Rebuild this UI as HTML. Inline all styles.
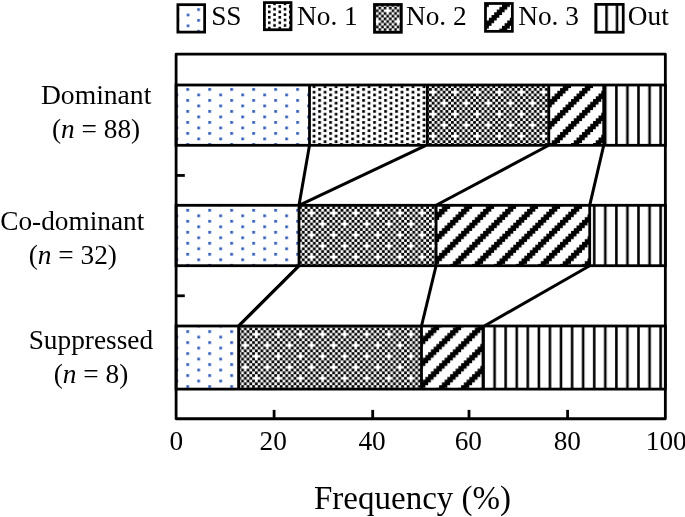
<!DOCTYPE html>
<html><head><meta charset="utf-8"><style>
html,body{margin:0;padding:0;background:#fff;}
svg{display:block;will-change:transform;}
text{font-family:"Liberation Serif", serif;fill:#000;}
</style></head><body>
<svg width="685" height="517" viewBox="0 0 685 517">
<defs>
<pattern id="p0ss" patternUnits="userSpaceOnUse" x="186.326" y="88.076" width="21.984" height="21.984">
<rect x="0.000" y="0.000" width="2.748" height="2.748" fill="#335fbb"/>
<rect x="10.992" y="5.496" width="2.748" height="2.748" fill="#335fbb"/>
<rect x="0.000" y="10.992" width="2.748" height="2.748" fill="#335fbb"/>
<rect x="10.992" y="16.488" width="2.748" height="2.748" fill="#335fbb"/>
</pattern>
<pattern id="p0n1" patternUnits="userSpaceOnUse" x="186.326" y="88.076" width="21.984" height="21.984">
<rect x="0.027" y="0.027" width="2.693" height="2.693"/>
<rect x="11.019" y="0.027" width="2.693" height="2.693"/>
<rect x="5.523" y="2.775" width="2.693" height="2.693"/>
<rect x="16.515" y="2.775" width="2.693" height="2.693"/>
<rect x="0.027" y="5.523" width="2.693" height="2.693"/>
<rect x="11.019" y="5.523" width="2.693" height="2.693"/>
<rect x="5.523" y="8.271" width="2.693" height="2.693"/>
<rect x="16.515" y="8.271" width="2.693" height="2.693"/>
<rect x="0.027" y="11.019" width="2.693" height="2.693"/>
<rect x="11.019" y="11.019" width="2.693" height="2.693"/>
<rect x="5.523" y="13.767" width="2.693" height="2.693"/>
<rect x="16.515" y="13.767" width="2.693" height="2.693"/>
<rect x="0.027" y="16.515" width="2.693" height="2.693"/>
<rect x="11.019" y="16.515" width="2.693" height="2.693"/>
<rect x="5.523" y="19.263" width="2.693" height="2.693"/>
<rect x="16.515" y="19.263" width="2.693" height="2.693"/>
</pattern>
<pattern id="p0n2" patternUnits="userSpaceOnUse" x="185.889" y="88.076" width="22.096" height="21.984">
<rect x="0.000" y="0.000" width="2.762" height="2.748"/>
<rect x="5.524" y="0.000" width="2.762" height="2.748"/>
<rect x="11.048" y="0.000" width="2.762" height="2.748"/>
<rect x="16.572" y="0.000" width="2.762" height="2.748"/>
<rect x="8.286" y="2.748" width="2.762" height="2.748"/>
<rect x="13.810" y="2.748" width="2.762" height="2.748"/>
<rect x="19.334" y="2.748" width="2.762" height="2.748"/>
<rect x="0.000" y="5.496" width="2.762" height="2.748"/>
<rect x="5.524" y="5.496" width="2.762" height="2.748"/>
<rect x="11.048" y="5.496" width="2.762" height="2.748"/>
<rect x="16.572" y="5.496" width="2.762" height="2.748"/>
<rect x="2.762" y="8.244" width="2.762" height="2.748"/>
<rect x="8.286" y="8.244" width="2.762" height="2.748"/>
<rect x="13.810" y="8.244" width="2.762" height="2.748"/>
<rect x="19.334" y="8.244" width="2.762" height="2.748"/>
<rect x="0.000" y="10.992" width="2.762" height="2.748"/>
<rect x="5.524" y="10.992" width="2.762" height="2.748"/>
<rect x="11.048" y="10.992" width="2.762" height="2.748"/>
<rect x="16.572" y="10.992" width="2.762" height="2.748"/>
<rect x="2.762" y="13.740" width="2.762" height="2.748"/>
<rect x="8.286" y="13.740" width="2.762" height="2.748"/>
<rect x="19.334" y="13.740" width="2.762" height="2.748"/>
<rect x="0.000" y="16.488" width="2.762" height="2.748"/>
<rect x="5.524" y="16.488" width="2.762" height="2.748"/>
<rect x="11.048" y="16.488" width="2.762" height="2.748"/>
<rect x="16.572" y="16.488" width="2.762" height="2.748"/>
<rect x="2.762" y="19.236" width="2.762" height="2.748"/>
<rect x="8.286" y="19.236" width="2.762" height="2.748"/>
<rect x="13.810" y="19.236" width="2.762" height="2.748"/>
<rect x="19.334" y="19.236" width="2.762" height="2.748"/>
</pattern>
<pattern id="p0n3" patternUnits="userSpaceOnUse" x="186.326" y="88.076" width="21.984" height="21.984">
<path d="M8.244,0.000 L8.244,2.748 L5.496,2.748 L5.496,5.496 L2.748,5.496 L2.748,8.244 L0.000,8.244 L0.000,10.992 L-2.748,10.992 L-2.748,13.740 L-5.496,13.740 L-5.496,16.488 L-8.244,16.488 L-8.244,19.236 L-10.992,19.236 L-10.992,21.984 L-19.236,21.984 L-19.236,19.236 L-16.488,19.236 L-16.488,16.488 L-13.740,16.488 L-13.740,13.740 L-10.992,13.740 L-10.992,10.992 L-8.244,10.992 L-8.244,8.244 L-5.496,8.244 L-5.496,5.496 L-2.748,5.496 L-2.748,2.748 L0.000,2.748 L0.000,0.000Z"/>
<path d="M30.228,0.000 L30.228,2.748 L27.480,2.748 L27.480,5.496 L24.732,5.496 L24.732,8.244 L21.984,8.244 L21.984,10.992 L19.236,10.992 L19.236,13.740 L16.488,13.740 L16.488,16.488 L13.740,16.488 L13.740,19.236 L10.992,19.236 L10.992,21.984 L2.748,21.984 L2.748,19.236 L5.496,19.236 L5.496,16.488 L8.244,16.488 L8.244,13.740 L10.992,13.740 L10.992,10.992 L13.740,10.992 L13.740,8.244 L16.488,8.244 L16.488,5.496 L19.236,5.496 L19.236,2.748 L21.984,2.748 L21.984,0.000Z"/>
<path d="M52.212,0.000 L52.212,2.748 L49.464,2.748 L49.464,5.496 L46.716,5.496 L46.716,8.244 L43.968,8.244 L43.968,10.992 L41.220,10.992 L41.220,13.740 L38.472,13.740 L38.472,16.488 L35.724,16.488 L35.724,19.236 L32.976,19.236 L32.976,21.984 L24.732,21.984 L24.732,19.236 L27.480,19.236 L27.480,16.488 L30.228,16.488 L30.228,13.740 L32.976,13.740 L32.976,10.992 L35.724,10.992 L35.724,8.244 L38.472,8.244 L38.472,5.496 L41.220,5.496 L41.220,2.748 L43.968,2.748 L43.968,0.000Z"/>
</pattern>
<pattern id="p0out" patternUnits="userSpaceOnUse" x="415.726" y="88.076" width="22.140" height="21.984">
<rect x="0.109" y="0" width="2.550" height="21.984"/>
<rect x="11.179" y="0" width="2.550" height="21.984"/>
</pattern>
<pattern id="p1ss" patternUnits="userSpaceOnUse" x="186.326" y="197.926" width="21.984" height="21.984">
<rect x="0.000" y="0.000" width="2.748" height="2.748" fill="#335fbb"/>
<rect x="10.992" y="5.496" width="2.748" height="2.748" fill="#335fbb"/>
<rect x="0.000" y="10.992" width="2.748" height="2.748" fill="#335fbb"/>
<rect x="10.992" y="16.488" width="2.748" height="2.748" fill="#335fbb"/>
</pattern>
<pattern id="p1n1" patternUnits="userSpaceOnUse" x="186.326" y="197.926" width="21.984" height="21.984">
<rect x="0.027" y="0.027" width="2.693" height="2.693"/>
<rect x="11.019" y="0.027" width="2.693" height="2.693"/>
<rect x="5.523" y="2.775" width="2.693" height="2.693"/>
<rect x="16.515" y="2.775" width="2.693" height="2.693"/>
<rect x="0.027" y="5.523" width="2.693" height="2.693"/>
<rect x="11.019" y="5.523" width="2.693" height="2.693"/>
<rect x="5.523" y="8.271" width="2.693" height="2.693"/>
<rect x="16.515" y="8.271" width="2.693" height="2.693"/>
<rect x="0.027" y="11.019" width="2.693" height="2.693"/>
<rect x="11.019" y="11.019" width="2.693" height="2.693"/>
<rect x="5.523" y="13.767" width="2.693" height="2.693"/>
<rect x="16.515" y="13.767" width="2.693" height="2.693"/>
<rect x="0.027" y="16.515" width="2.693" height="2.693"/>
<rect x="11.019" y="16.515" width="2.693" height="2.693"/>
<rect x="5.523" y="19.263" width="2.693" height="2.693"/>
<rect x="16.515" y="19.263" width="2.693" height="2.693"/>
</pattern>
<pattern id="p1n2" patternUnits="userSpaceOnUse" x="185.889" y="197.926" width="22.096" height="21.984">
<rect x="0.000" y="0.000" width="2.762" height="2.748"/>
<rect x="5.524" y="0.000" width="2.762" height="2.748"/>
<rect x="11.048" y="0.000" width="2.762" height="2.748"/>
<rect x="16.572" y="0.000" width="2.762" height="2.748"/>
<rect x="8.286" y="2.748" width="2.762" height="2.748"/>
<rect x="13.810" y="2.748" width="2.762" height="2.748"/>
<rect x="19.334" y="2.748" width="2.762" height="2.748"/>
<rect x="0.000" y="5.496" width="2.762" height="2.748"/>
<rect x="5.524" y="5.496" width="2.762" height="2.748"/>
<rect x="11.048" y="5.496" width="2.762" height="2.748"/>
<rect x="16.572" y="5.496" width="2.762" height="2.748"/>
<rect x="2.762" y="8.244" width="2.762" height="2.748"/>
<rect x="8.286" y="8.244" width="2.762" height="2.748"/>
<rect x="13.810" y="8.244" width="2.762" height="2.748"/>
<rect x="19.334" y="8.244" width="2.762" height="2.748"/>
<rect x="0.000" y="10.992" width="2.762" height="2.748"/>
<rect x="5.524" y="10.992" width="2.762" height="2.748"/>
<rect x="11.048" y="10.992" width="2.762" height="2.748"/>
<rect x="16.572" y="10.992" width="2.762" height="2.748"/>
<rect x="2.762" y="13.740" width="2.762" height="2.748"/>
<rect x="8.286" y="13.740" width="2.762" height="2.748"/>
<rect x="19.334" y="13.740" width="2.762" height="2.748"/>
<rect x="0.000" y="16.488" width="2.762" height="2.748"/>
<rect x="5.524" y="16.488" width="2.762" height="2.748"/>
<rect x="11.048" y="16.488" width="2.762" height="2.748"/>
<rect x="16.572" y="16.488" width="2.762" height="2.748"/>
<rect x="2.762" y="19.236" width="2.762" height="2.748"/>
<rect x="8.286" y="19.236" width="2.762" height="2.748"/>
<rect x="13.810" y="19.236" width="2.762" height="2.748"/>
<rect x="19.334" y="19.236" width="2.762" height="2.748"/>
</pattern>
<pattern id="p1n3" patternUnits="userSpaceOnUse" x="186.326" y="197.926" width="21.984" height="21.984">
<path d="M8.244,0.000 L8.244,2.748 L5.496,2.748 L5.496,5.496 L2.748,5.496 L2.748,8.244 L0.000,8.244 L0.000,10.992 L-2.748,10.992 L-2.748,13.740 L-5.496,13.740 L-5.496,16.488 L-8.244,16.488 L-8.244,19.236 L-10.992,19.236 L-10.992,21.984 L-19.236,21.984 L-19.236,19.236 L-16.488,19.236 L-16.488,16.488 L-13.740,16.488 L-13.740,13.740 L-10.992,13.740 L-10.992,10.992 L-8.244,10.992 L-8.244,8.244 L-5.496,8.244 L-5.496,5.496 L-2.748,5.496 L-2.748,2.748 L0.000,2.748 L0.000,0.000Z"/>
<path d="M30.228,0.000 L30.228,2.748 L27.480,2.748 L27.480,5.496 L24.732,5.496 L24.732,8.244 L21.984,8.244 L21.984,10.992 L19.236,10.992 L19.236,13.740 L16.488,13.740 L16.488,16.488 L13.740,16.488 L13.740,19.236 L10.992,19.236 L10.992,21.984 L2.748,21.984 L2.748,19.236 L5.496,19.236 L5.496,16.488 L8.244,16.488 L8.244,13.740 L10.992,13.740 L10.992,10.992 L13.740,10.992 L13.740,8.244 L16.488,8.244 L16.488,5.496 L19.236,5.496 L19.236,2.748 L21.984,2.748 L21.984,0.000Z"/>
<path d="M52.212,0.000 L52.212,2.748 L49.464,2.748 L49.464,5.496 L46.716,5.496 L46.716,8.244 L43.968,8.244 L43.968,10.992 L41.220,10.992 L41.220,13.740 L38.472,13.740 L38.472,16.488 L35.724,16.488 L35.724,19.236 L32.976,19.236 L32.976,21.984 L24.732,21.984 L24.732,19.236 L27.480,19.236 L27.480,16.488 L30.228,16.488 L30.228,13.740 L32.976,13.740 L32.976,10.992 L35.724,10.992 L35.724,8.244 L38.472,8.244 L38.472,5.496 L41.220,5.496 L41.220,2.748 L43.968,2.748 L43.968,0.000Z"/>
</pattern>
<pattern id="p1out" patternUnits="userSpaceOnUse" x="415.726" y="197.926" width="22.140" height="21.984">
<rect x="0.109" y="0" width="2.550" height="21.984"/>
<rect x="11.179" y="0" width="2.550" height="21.984"/>
</pattern>
<pattern id="p2ss" patternUnits="userSpaceOnUse" x="186.326" y="330.226" width="21.984" height="21.984">
<rect x="0.000" y="0.000" width="2.748" height="2.748" fill="#335fbb"/>
<rect x="10.992" y="5.496" width="2.748" height="2.748" fill="#335fbb"/>
<rect x="0.000" y="10.992" width="2.748" height="2.748" fill="#335fbb"/>
<rect x="10.992" y="16.488" width="2.748" height="2.748" fill="#335fbb"/>
</pattern>
<pattern id="p2n1" patternUnits="userSpaceOnUse" x="186.326" y="330.226" width="21.984" height="21.984">
<rect x="0.027" y="0.027" width="2.693" height="2.693"/>
<rect x="11.019" y="0.027" width="2.693" height="2.693"/>
<rect x="5.523" y="2.775" width="2.693" height="2.693"/>
<rect x="16.515" y="2.775" width="2.693" height="2.693"/>
<rect x="0.027" y="5.523" width="2.693" height="2.693"/>
<rect x="11.019" y="5.523" width="2.693" height="2.693"/>
<rect x="5.523" y="8.271" width="2.693" height="2.693"/>
<rect x="16.515" y="8.271" width="2.693" height="2.693"/>
<rect x="0.027" y="11.019" width="2.693" height="2.693"/>
<rect x="11.019" y="11.019" width="2.693" height="2.693"/>
<rect x="5.523" y="13.767" width="2.693" height="2.693"/>
<rect x="16.515" y="13.767" width="2.693" height="2.693"/>
<rect x="0.027" y="16.515" width="2.693" height="2.693"/>
<rect x="11.019" y="16.515" width="2.693" height="2.693"/>
<rect x="5.523" y="19.263" width="2.693" height="2.693"/>
<rect x="16.515" y="19.263" width="2.693" height="2.693"/>
</pattern>
<pattern id="p2n2" patternUnits="userSpaceOnUse" x="185.889" y="330.226" width="22.096" height="21.984">
<rect x="0.000" y="0.000" width="2.762" height="2.748"/>
<rect x="5.524" y="0.000" width="2.762" height="2.748"/>
<rect x="11.048" y="0.000" width="2.762" height="2.748"/>
<rect x="16.572" y="0.000" width="2.762" height="2.748"/>
<rect x="8.286" y="2.748" width="2.762" height="2.748"/>
<rect x="13.810" y="2.748" width="2.762" height="2.748"/>
<rect x="19.334" y="2.748" width="2.762" height="2.748"/>
<rect x="0.000" y="5.496" width="2.762" height="2.748"/>
<rect x="5.524" y="5.496" width="2.762" height="2.748"/>
<rect x="11.048" y="5.496" width="2.762" height="2.748"/>
<rect x="16.572" y="5.496" width="2.762" height="2.748"/>
<rect x="2.762" y="8.244" width="2.762" height="2.748"/>
<rect x="8.286" y="8.244" width="2.762" height="2.748"/>
<rect x="13.810" y="8.244" width="2.762" height="2.748"/>
<rect x="19.334" y="8.244" width="2.762" height="2.748"/>
<rect x="0.000" y="10.992" width="2.762" height="2.748"/>
<rect x="5.524" y="10.992" width="2.762" height="2.748"/>
<rect x="11.048" y="10.992" width="2.762" height="2.748"/>
<rect x="16.572" y="10.992" width="2.762" height="2.748"/>
<rect x="2.762" y="13.740" width="2.762" height="2.748"/>
<rect x="8.286" y="13.740" width="2.762" height="2.748"/>
<rect x="19.334" y="13.740" width="2.762" height="2.748"/>
<rect x="0.000" y="16.488" width="2.762" height="2.748"/>
<rect x="5.524" y="16.488" width="2.762" height="2.748"/>
<rect x="11.048" y="16.488" width="2.762" height="2.748"/>
<rect x="16.572" y="16.488" width="2.762" height="2.748"/>
<rect x="2.762" y="19.236" width="2.762" height="2.748"/>
<rect x="8.286" y="19.236" width="2.762" height="2.748"/>
<rect x="13.810" y="19.236" width="2.762" height="2.748"/>
<rect x="19.334" y="19.236" width="2.762" height="2.748"/>
</pattern>
<pattern id="p2n3" patternUnits="userSpaceOnUse" x="186.326" y="330.226" width="21.984" height="21.984">
<path d="M8.244,0.000 L8.244,2.748 L5.496,2.748 L5.496,5.496 L2.748,5.496 L2.748,8.244 L0.000,8.244 L0.000,10.992 L-2.748,10.992 L-2.748,13.740 L-5.496,13.740 L-5.496,16.488 L-8.244,16.488 L-8.244,19.236 L-10.992,19.236 L-10.992,21.984 L-19.236,21.984 L-19.236,19.236 L-16.488,19.236 L-16.488,16.488 L-13.740,16.488 L-13.740,13.740 L-10.992,13.740 L-10.992,10.992 L-8.244,10.992 L-8.244,8.244 L-5.496,8.244 L-5.496,5.496 L-2.748,5.496 L-2.748,2.748 L0.000,2.748 L0.000,0.000Z"/>
<path d="M30.228,0.000 L30.228,2.748 L27.480,2.748 L27.480,5.496 L24.732,5.496 L24.732,8.244 L21.984,8.244 L21.984,10.992 L19.236,10.992 L19.236,13.740 L16.488,13.740 L16.488,16.488 L13.740,16.488 L13.740,19.236 L10.992,19.236 L10.992,21.984 L2.748,21.984 L2.748,19.236 L5.496,19.236 L5.496,16.488 L8.244,16.488 L8.244,13.740 L10.992,13.740 L10.992,10.992 L13.740,10.992 L13.740,8.244 L16.488,8.244 L16.488,5.496 L19.236,5.496 L19.236,2.748 L21.984,2.748 L21.984,0.000Z"/>
<path d="M52.212,0.000 L52.212,2.748 L49.464,2.748 L49.464,5.496 L46.716,5.496 L46.716,8.244 L43.968,8.244 L43.968,10.992 L41.220,10.992 L41.220,13.740 L38.472,13.740 L38.472,16.488 L35.724,16.488 L35.724,19.236 L32.976,19.236 L32.976,21.984 L24.732,21.984 L24.732,19.236 L27.480,19.236 L27.480,16.488 L30.228,16.488 L30.228,13.740 L32.976,13.740 L32.976,10.992 L35.724,10.992 L35.724,8.244 L38.472,8.244 L38.472,5.496 L41.220,5.496 L41.220,2.748 L43.968,2.748 L43.968,0.000Z"/>
</pattern>
<pattern id="p2out" patternUnits="userSpaceOnUse" x="415.726" y="330.226" width="22.140" height="21.984">
<rect x="0.109" y="0" width="2.550" height="21.984"/>
<rect x="11.179" y="0" width="2.550" height="21.984"/>
</pattern>
<pattern id="Lss" patternUnits="userSpaceOnUse" x="197.290" y="8.250" width="20.960" height="21.600">
<rect x="0.000" y="0.000" width="2.620" height="2.700" fill="#335fbb"/>
<rect x="10.480" y="5.400" width="2.620" height="2.700" fill="#335fbb"/>
<rect x="0.000" y="10.800" width="2.620" height="2.700" fill="#335fbb"/>
<rect x="10.480" y="16.200" width="2.620" height="2.700" fill="#335fbb"/>
</pattern>
<pattern id="Ln1" patternUnits="userSpaceOnUse" x="267.990" y="5.150" width="20.960" height="21.600">
<rect x="0.026" y="0.027" width="2.568" height="2.646"/>
<rect x="10.506" y="0.027" width="2.568" height="2.646"/>
<rect x="5.266" y="2.727" width="2.568" height="2.646"/>
<rect x="15.746" y="2.727" width="2.568" height="2.646"/>
<rect x="0.026" y="5.427" width="2.568" height="2.646"/>
<rect x="10.506" y="5.427" width="2.568" height="2.646"/>
<rect x="5.266" y="8.127" width="2.568" height="2.646"/>
<rect x="15.746" y="8.127" width="2.568" height="2.646"/>
<rect x="0.026" y="10.827" width="2.568" height="2.646"/>
<rect x="10.506" y="10.827" width="2.568" height="2.646"/>
<rect x="5.266" y="13.527" width="2.568" height="2.646"/>
<rect x="15.746" y="13.527" width="2.568" height="2.646"/>
<rect x="0.026" y="16.227" width="2.568" height="2.646"/>
<rect x="10.506" y="16.227" width="2.568" height="2.646"/>
<rect x="5.266" y="18.927" width="2.568" height="2.646"/>
<rect x="15.746" y="18.927" width="2.568" height="2.646"/>
</pattern>
<pattern id="Ln2" patternUnits="userSpaceOnUse" x="383.740" y="6.700" width="20.960" height="21.600">
<rect x="0.000" y="0.000" width="2.620" height="2.700"/>
<rect x="5.240" y="0.000" width="2.620" height="2.700"/>
<rect x="10.480" y="0.000" width="2.620" height="2.700"/>
<rect x="15.720" y="0.000" width="2.620" height="2.700"/>
<rect x="7.860" y="2.700" width="2.620" height="2.700"/>
<rect x="13.100" y="2.700" width="2.620" height="2.700"/>
<rect x="18.340" y="2.700" width="2.620" height="2.700"/>
<rect x="0.000" y="5.400" width="2.620" height="2.700"/>
<rect x="5.240" y="5.400" width="2.620" height="2.700"/>
<rect x="10.480" y="5.400" width="2.620" height="2.700"/>
<rect x="15.720" y="5.400" width="2.620" height="2.700"/>
<rect x="2.620" y="8.100" width="2.620" height="2.700"/>
<rect x="7.860" y="8.100" width="2.620" height="2.700"/>
<rect x="13.100" y="8.100" width="2.620" height="2.700"/>
<rect x="18.340" y="8.100" width="2.620" height="2.700"/>
<rect x="0.000" y="10.800" width="2.620" height="2.700"/>
<rect x="5.240" y="10.800" width="2.620" height="2.700"/>
<rect x="10.480" y="10.800" width="2.620" height="2.700"/>
<rect x="15.720" y="10.800" width="2.620" height="2.700"/>
<rect x="2.620" y="13.500" width="2.620" height="2.700"/>
<rect x="7.860" y="13.500" width="2.620" height="2.700"/>
<rect x="18.340" y="13.500" width="2.620" height="2.700"/>
<rect x="0.000" y="16.200" width="2.620" height="2.700"/>
<rect x="5.240" y="16.200" width="2.620" height="2.700"/>
<rect x="10.480" y="16.200" width="2.620" height="2.700"/>
<rect x="15.720" y="16.200" width="2.620" height="2.700"/>
<rect x="2.620" y="18.900" width="2.620" height="2.700"/>
<rect x="7.860" y="18.900" width="2.620" height="2.700"/>
<rect x="13.100" y="18.900" width="2.620" height="2.700"/>
<rect x="18.340" y="18.900" width="2.620" height="2.700"/>
</pattern>
<pattern id="Ln3" patternUnits="userSpaceOnUse" x="501.990" y="4.250" width="20.960" height="21.600">
<path d="M7.860,0.000 L7.860,2.700 L5.240,2.700 L5.240,5.400 L2.620,5.400 L2.620,8.100 L0.000,8.100 L0.000,10.800 L-2.620,10.800 L-2.620,13.500 L-5.240,13.500 L-5.240,16.200 L-7.860,16.200 L-7.860,18.900 L-10.480,18.900 L-10.480,21.600 L-18.340,21.600 L-18.340,18.900 L-15.720,18.900 L-15.720,16.200 L-13.100,16.200 L-13.100,13.500 L-10.480,13.500 L-10.480,10.800 L-7.860,10.800 L-7.860,8.100 L-5.240,8.100 L-5.240,5.400 L-2.620,5.400 L-2.620,2.700 L0.000,2.700 L0.000,0.000Z"/>
<path d="M28.820,0.000 L28.820,2.700 L26.200,2.700 L26.200,5.400 L23.580,5.400 L23.580,8.100 L20.960,8.100 L20.960,10.800 L18.340,10.800 L18.340,13.500 L15.720,13.500 L15.720,16.200 L13.100,16.200 L13.100,18.900 L10.480,18.900 L10.480,21.600 L2.620,21.600 L2.620,18.900 L5.240,18.900 L5.240,16.200 L7.860,16.200 L7.860,13.500 L10.480,13.500 L10.480,10.800 L13.100,10.800 L13.100,8.100 L15.720,8.100 L15.720,5.400 L18.340,5.400 L18.340,2.700 L20.960,2.700 L20.960,0.000Z"/>
<path d="M49.780,0.000 L49.780,2.700 L47.160,2.700 L47.160,5.400 L44.540,5.400 L44.540,8.100 L41.920,8.100 L41.920,10.800 L39.300,10.800 L39.300,13.500 L36.680,13.500 L36.680,16.200 L34.060,16.200 L34.060,18.900 L31.440,18.900 L31.440,21.600 L23.580,21.600 L23.580,18.900 L26.200,18.900 L26.200,16.200 L28.820,16.200 L28.820,13.500 L31.440,13.500 L31.440,10.800 L34.060,10.800 L34.060,8.100 L36.680,8.100 L36.680,5.400 L39.300,5.400 L39.300,2.700 L41.920,2.700 L41.920,0.000Z"/>
</pattern>
<pattern id="Lout" patternUnits="userSpaceOnUse" x="605.237" y="3.650" width="21.000" height="21.600">
<rect x="0.038" y="0" width="2.550" height="21.600"/>
<rect x="10.537" y="0" width="2.550" height="21.600"/>
</pattern>
</defs>
<rect width="685" height="517" fill="#fff"/>
<rect x="176.10" y="85.00" width="133.40" height="60.30" fill="url(#p0ss)"/>
<rect x="309.50" y="85.00" width="117.80" height="60.30" fill="url(#p0n1)"/>
<rect x="427.30" y="85.00" width="121.50" height="60.30" fill="url(#p0n2)"/>
<rect x="548.80" y="85.00" width="54.90" height="60.30" fill="url(#p0n3)"/>
<rect x="603.70" y="85.00" width="61.65" height="60.30" fill="url(#p0out)"/>
<rect x="176.10" y="85.00" width="489.25" height="60.30" fill="none" stroke="#000" stroke-width="2.8"/>
<line x1="309.50" y1="85.00" x2="309.50" y2="145.30" stroke="#000" stroke-width="2.8"/>
<line x1="427.30" y1="85.00" x2="427.30" y2="145.30" stroke="#000" stroke-width="2.8"/>
<line x1="548.80" y1="85.00" x2="548.80" y2="145.30" stroke="#000" stroke-width="2.8"/>
<line x1="603.70" y1="85.00" x2="603.70" y2="145.30" stroke="#000" stroke-width="2.8"/>
<rect x="176.10" y="205.30" width="122.90" height="60.40" fill="url(#p1ss)"/>
<rect x="299.00" y="205.30" width="137.10" height="60.40" fill="url(#p1n2)"/>
<rect x="436.10" y="205.30" width="153.60" height="60.40" fill="url(#p1n3)"/>
<rect x="589.70" y="205.30" width="75.65" height="60.40" fill="url(#p1out)"/>
<rect x="176.10" y="205.30" width="489.25" height="60.40" fill="none" stroke="#000" stroke-width="2.8"/>
<line x1="299.00" y1="205.30" x2="299.00" y2="265.70" stroke="#000" stroke-width="2.8"/>
<line x1="436.10" y1="205.30" x2="436.10" y2="265.70" stroke="#000" stroke-width="2.8"/>
<line x1="589.70" y1="205.30" x2="589.70" y2="265.70" stroke="#000" stroke-width="2.8"/>
<rect x="176.10" y="326.00" width="62.50" height="63.10" fill="url(#p2ss)"/>
<rect x="238.60" y="326.00" width="182.90" height="63.10" fill="url(#p2n2)"/>
<rect x="421.50" y="326.00" width="61.50" height="63.10" fill="url(#p2n3)"/>
<rect x="483.00" y="326.00" width="182.35" height="63.10" fill="url(#p2out)"/>
<rect x="176.10" y="326.00" width="489.25" height="63.10" fill="none" stroke="#000" stroke-width="2.8"/>
<line x1="238.60" y1="326.00" x2="238.60" y2="389.10" stroke="#000" stroke-width="2.8"/>
<line x1="421.50" y1="326.00" x2="421.50" y2="389.10" stroke="#000" stroke-width="2.8"/>
<line x1="483.00" y1="326.00" x2="483.00" y2="389.10" stroke="#000" stroke-width="2.8"/>
<line x1="309.50" y1="145.30" x2="299.00" y2="205.30" stroke="#000" stroke-width="3.0"/>
<line x1="426.00" y1="145.30" x2="299.00" y2="205.30" stroke="#000" stroke-width="3.0"/>
<line x1="548.80" y1="145.30" x2="436.10" y2="205.30" stroke="#000" stroke-width="3.0"/>
<line x1="603.70" y1="145.30" x2="589.70" y2="205.30" stroke="#000" stroke-width="3.0"/>
<line x1="299.00" y1="265.70" x2="238.60" y2="326.00" stroke="#000" stroke-width="3.0"/>
<line x1="299.00" y1="265.70" x2="238.60" y2="326.00" stroke="#000" stroke-width="3.0"/>
<line x1="436.10" y1="265.70" x2="421.50" y2="326.00" stroke="#000" stroke-width="3.0"/>
<line x1="589.70" y1="265.70" x2="484.30" y2="326.00" stroke="#000" stroke-width="3.0"/>
<rect x="176.1" y="54.1" width="489.25" height="364.65" fill="none" stroke="#000" stroke-width="2.8" stroke-linejoin="round"/>
<line x1="176.1" y1="175.45" x2="184.8" y2="175.45" stroke="#000" stroke-width="2.8"/>
<line x1="176.1" y1="295.8" x2="184.8" y2="295.8" stroke="#000" stroke-width="2.8"/>
<line x1="274.10" y1="409.9" x2="274.10" y2="418.75" stroke="#000" stroke-width="2.8"/>
<line x1="372.70" y1="409.9" x2="372.70" y2="418.75" stroke="#000" stroke-width="2.8"/>
<line x1="469.00" y1="409.9" x2="469.00" y2="418.75" stroke="#000" stroke-width="2.8"/>
<line x1="567.60" y1="409.9" x2="567.60" y2="418.75" stroke="#000" stroke-width="2.8"/>
<rect x="177.88" y="4.67" width="26.75" height="27.45" fill="url(#Lss)" stroke="#000" stroke-width="2.75"/>
<rect x="264.38" y="2.58" width="26.65" height="27.15" fill="url(#Ln1)" stroke="#000" stroke-width="2.75"/>
<rect x="374.48" y="4.47" width="26.85" height="27.85" fill="url(#Ln2)" stroke="#000" stroke-width="2.75"/>
<rect x="485.48" y="3.48" width="26.85" height="27.85" fill="url(#Ln3)" stroke="#000" stroke-width="2.75"/>
<rect x="595.77" y="4.38" width="27.45" height="27.85" fill="url(#Lout)" stroke="#000" stroke-width="2.75"/>
<text x="211.20" y="24.90" font-size="27.3">SS</text>
<text x="297.10" y="24.90" font-size="27.3">No. 1</text>
<text x="406.00" y="24.90" font-size="27.3">No. 2</text>
<text x="518.20" y="24.90" font-size="27.3">No. 3</text>
<text x="627.80" y="24.90" font-size="27.3">Out</text>
<text x="40.95" y="104.10" font-size="27.6">Dominant</text>
<text x="52.00" y="138.00" font-size="27.3">(<tspan font-style="italic">n</tspan> = 88)</text>
<text x="0.20" y="229.90" font-size="27.3">Co-dominant</text>
<text x="28.70" y="264.40" font-size="27.3">(<tspan font-style="italic">n</tspan> = 32)</text>
<text x="28.70" y="348.50" font-size="27.3">Suppressed</text>
<text x="53.70" y="382.70" font-size="27.3">(<tspan font-style="italic">n</tspan> = 8)</text>
<text x="176.25" y="450.3" text-anchor="middle" font-size="27.3">0</text>
<text x="273.20" y="450.3" text-anchor="middle" font-size="27.3">20</text>
<text x="372.05" y="450.3" text-anchor="middle" font-size="27.3">40</text>
<text x="468.30" y="450.3" text-anchor="middle" font-size="27.3">60</text>
<text x="567.30" y="450.3" text-anchor="middle" font-size="27.3">80</text>
<text x="666.30" y="450.3" text-anchor="middle" font-size="27.3">100</text>
<text x="314.0" y="508.5" font-size="33">Frequency (%)</text>
</svg>
</body></html>
